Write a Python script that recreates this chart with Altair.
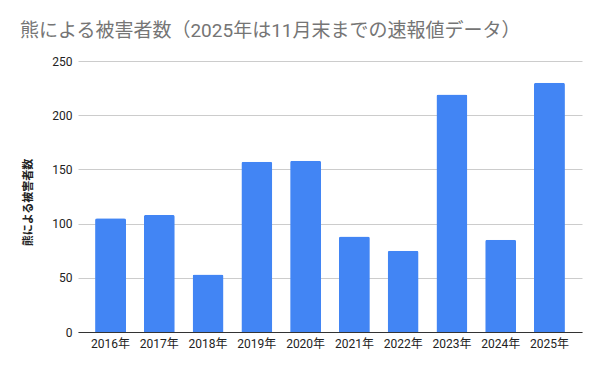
import altair as alt
import pandas as pd

years = ["2016年", "2017年", "2018年", "2019年", "2020年", "2021年", "2022年", "2023年", "2024年", "2025年"]
victims = [105, 108, 53, 157, 158, 88, 75, 219, 85, 230]

df = pd.DataFrame({"year": years, "victims": victims})
FONT = "Roboto, Noto Sans CJK JP"

bars = alt.Chart(df).mark_bar(
    color="#4285f4", cornerRadiusTopLeft=2, cornerRadiusTopRight=2
).encode(
    x=alt.X("year:N", sort=years, title=None,
            scale=alt.Scale(paddingInner=0.365, paddingOuter=0.35),
            axis=alt.Axis(labelAngle=0, labelFont=FONT, labelFontSize=12, labelColor="#222222",
                          ticks=False, domainColor="#333333", labelPadding=6, grid=False)),
    y=alt.Y("victims:Q", title="熊による被害者数",
            scale=alt.Scale(domain=[0, 250]),
            axis=alt.Axis(values=[0, 50, 100, 150, 200, 250], labelFont=FONT, labelFontSize=12,
                          labelColor="#222222", ticks=False, domain=False, gridColor="#cccccc",
                          labelPadding=6, titleFont=FONT, titleFontSize=11, titleColor="#222222",
                          titleFontWeight="bold", titlePadding=18, titleY=141)),
)

chart = bars.properties(
    width=504, height=271,
    title=alt.TitleParams("熊による被害者数（2025年は11月末までの速報値データ）", anchor="start",
                          font=FONT, fontSize=19, fontWeight="normal", color="#757575",
                          frame="group", dx=-58, offset=14),
    autosize=alt.AutoSizeParams(type="none"),
    padding={"left": 78, "top": 61, "right": 18, "bottom": 39},
).configure_view(stroke=None)

chart.save("out.html", embed_options={"renderer": "svg", "actions": False})
